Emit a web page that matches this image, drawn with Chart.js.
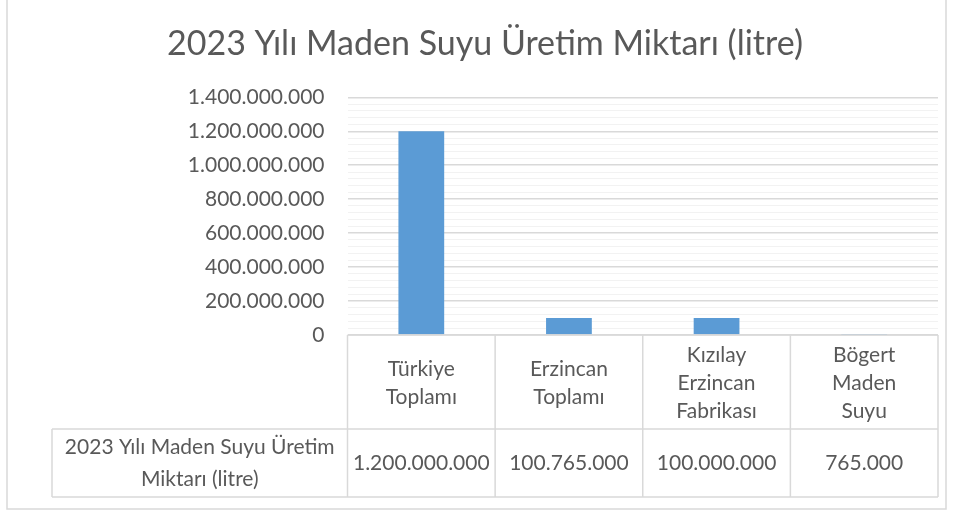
<!DOCTYPE html>
<html>
<head>
<meta charset="utf-8">
<script src="https://cdn.jsdelivr.net/npm/chart.js@4"></script>
<style>
html,body{margin:0;padding:0;background:#fff;}
#wrap{width:955px;height:513px;position:relative;}
</style>
</head>
<body>
<div id="wrap"><canvas id="c" width="955" height="513"></canvas></div>
<script>
const chartTitle = '2023 Yılı Maden Suyu Üretim Miktarı (litre)';
const categories = [['Türkiye','Toplamı'], ['Erzincan','Toplamı'], ['Kızılay','Erzincan','Fabrikası'], ['Bögert','Maden','Suyu']];
const seriesName = '2023 Yılı Maden Suyu Üretim Miktarı (litre)';
const seriesLabelLines = ['2023 Yılı Maden Suyu Üretim', 'Miktarı (litre)'];
const values = [1200000000, 100765000, 100000000, 765000];
const yMin = 0, yMax = 1400000000, majorStep = 200000000, minorStep = 40000000;

const TEXT = '#595959';
const GRID_MAJOR = '#d9d9d9';
const GRID_MINOR = '#f2f2f2';
const FONT = 'Lato';
const FS = 21;
const PAD_LEFT = 32;

function fmt(v){
  return String(Math.round(v)).replace(/\B(?=(\d{3})+(?!\d))/g, '.');
}
function isMajor(v){
  return Math.abs(v / majorStep - Math.round(v / majorStep)) < 1e-6;
}

const tablePlugin = {
  id: 'dataTable',
  afterDraw(chart){
    const ctx = chart.ctx;
    const ca = chart.chartArea;
    const xs = chart.scales.x;
    const n = categories.length;
    const colW = (ca.right - ca.left) / n;
    const rowTop = 429, rowBot = 497, labelLeft = 52;
    ctx.save();
    // outer chart border
    ctx.strokeStyle = GRID_MAJOR;
    ctx.lineWidth = 1.5;
    ctx.beginPath();
    ctx.moveTo(7, 0); ctx.lineTo(7, 509); ctx.lineTo(946, 509); ctx.lineTo(946, 0);
    ctx.stroke();
    // table grid
    ctx.beginPath();
    for (let i = 0; i <= n; i++){
      const x = ca.left + i * colW;
      ctx.moveTo(x, ca.bottom); ctx.lineTo(x, rowBot);
    }
    ctx.moveTo(ca.left, ca.bottom); ctx.lineTo(ca.right, ca.bottom);
    ctx.moveTo(labelLeft, rowTop); ctx.lineTo(ca.right, rowTop);
    ctx.moveTo(labelLeft, rowBot); ctx.lineTo(ca.right, rowBot);
    ctx.moveTo(labelLeft, rowTop); ctx.lineTo(labelLeft, rowBot);
    ctx.stroke();
    // values
    ctx.fillStyle = TEXT;
    ctx.font = FS + 'px ' + FONT;
    ctx.textAlign = 'center';
    ctx.textBaseline = 'middle';
    const midY = (rowTop + rowBot) / 2;
    values.forEach((v, i) => {
      ctx.fillText(fmt(v), xs.getPixelForValue(i), midY);
    });
    // series label
    const lx = (labelLeft + ca.left) / 2;
    const lh = 32;
    seriesLabelLines.forEach((t, i) => {
      ctx.fillText(t, lx, midY + 0.5 + (i - (seriesLabelLines.length - 1) / 2) * lh);
    });
    ctx.restore();
  }
};

new Chart(document.getElementById('c'), {
  type: 'bar',
  data: {
    labels: categories,
    datasets: [{
      label: seriesName,
      data: values,
      backgroundColor: '#5B9BD5',
      borderWidth: 0,
      categoryPercentage: 1,
      barPercentage: 0.31
    }]
  },
  options: {
    responsive: false,
    animation: false,
    devicePixelRatio: 1,
    layout: { padding: { left: PAD_LEFT, right: 17, top: 0, bottom: 4 } },
    plugins: {
      legend: { display: false },
      tooltip: { enabled: false },
      title: {
        display: true,
        text: chartTitle,
        color: TEXT,
        font: { family: FONT, size: 34, weight: 'normal', lineHeight: 1.2 },
        padding: { top: 24, bottom: 32.5 }
      }
    },
    scales: {
      x: {
        afterFit(scale){ scale.height = 174; },
        grid: { display: false },
        border: { display: false },
        ticks: {
          color: TEXT,
          font: { family: FONT, size: FS, lineHeight: 1.35 },
          padding: 12,
          crossAlign: 'center',
          maxRotation: 0,
          autoSkip: false
        }
      },
      y: {
        min: yMin,
        max: yMax,
        afterFit(scale){ scale.width = 347.5 - PAD_LEFT; },
        border: { display: false },
        grid: {
          drawTicks: false,
          color: (c) => isMajor(c.tick.value) ? GRID_MAJOR : GRID_MINOR,
          lineWidth: (c) => isMajor(c.tick.value) ? 1.5 : 1
        },
        ticks: {
          stepSize: minorStep,
          autoSkip: false,
          padding: 23,
          color: TEXT,
          font: { family: FONT, size: FS },
          callback: (v) => isMajor(v) ? fmt(v) : ''
        }
      }
    }
  },
  plugins: [tablePlugin]
});
</script>
</body>
</html>
